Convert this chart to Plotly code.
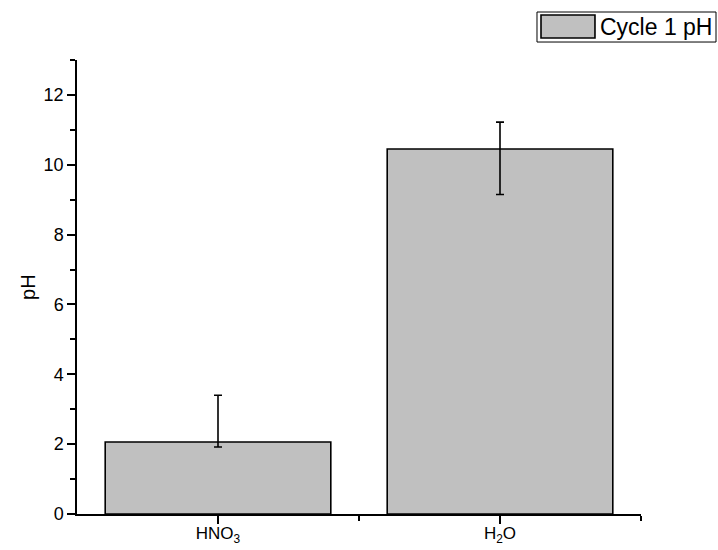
import plotly.graph_objects as go

categories = ["HNO<sub>3</sub>", "H<sub>2</sub>O"]
ph_values = [2.06, 10.45]
err_plus = [1.34, 0.77]
err_minus = [0.14, 1.30]
series_name = "Cycle 1 pH"
y_title = "pH"
y_ticks = [0, 2, 4, 6, 8, 10, 12]

xpos = list(range(len(categories)))

fig = go.Figure()
fig.add_trace(go.Bar(
    x=xpos, y=ph_values, width=0.8, name=series_name,
    marker=dict(color="#C0C0C0", line=dict(color="black", width=1.6)),
    error_y=dict(type="data", symmetric=False, array=err_plus, arrayminus=err_minus,
                 color="black", thickness=1.6, width=4),
    showlegend=False,
))

# legend drawn in paper coordinates
fig.add_shape(type="rect", xref="paper", yref="paper", x0=0.8156, x1=1.133, y0=1.0396, y1=1.1057,
              line=dict(color="black", width=1), fillcolor="white")
fig.add_shape(type="rect", xref="paper", yref="paper", x0=0.8227, x1=0.9184, y0=1.0485, y1=1.0991,
              line=dict(color="black", width=1.6), fillcolor="#C0C0C0")
fig.add_annotation(xref="paper", yref="paper", x=0.923, y=1.0727, xanchor="left", yanchor="middle",
                   text=series_name, showarrow=False, font=dict(size=23, color="black"))
# y-axis title
fig.add_annotation(xref="paper", yref="paper", x=-0.0869, y=0.5, xanchor="center", yanchor="middle",
                   text=y_title, textangle=-90, showarrow=False, font=dict(size=20, color="black"))

fig.update_layout(
    width=718, height=550,
    margin=dict(l=77, r=77, t=60, b=36, autoexpand=False),
    plot_bgcolor="white", paper_bgcolor="white",
    font=dict(family="Liberation Sans, Arial", color="black"),
    bargap=0.2,
)
fig.update_xaxes(
    range=[-0.5, 1.5], tickvals=xpos, ticktext=categories, automargin=False,
    showline=True, linecolor="black", linewidth=1.5, mirror=False,
    ticks="outside", ticklen=8, tickwidth=1.5, tickcolor="black",
    tickfont=dict(size=17), showgrid=False, zeroline=False, ticklabelstandoff=-5,
    minor=dict(tickvals=[0.5, 1.5], ticks="outside", ticklen=5, tickwidth=1.5, tickcolor="black", showgrid=False),
)
fig.update_yaxes(
    range=[0, 13], tickvals=y_ticks, automargin=False,
    showline=True, linecolor="black", linewidth=1.5,
    ticks="outside", ticklen=8, tickwidth=1.5, tickcolor="black",
    tickfont=dict(size=18), showgrid=False, zeroline=False,
    minor=dict(dtick=1, ticks="outside", ticklen=5, tickwidth=1.5, tickcolor="black", showgrid=False),
)

fig.write_html("out.html")
